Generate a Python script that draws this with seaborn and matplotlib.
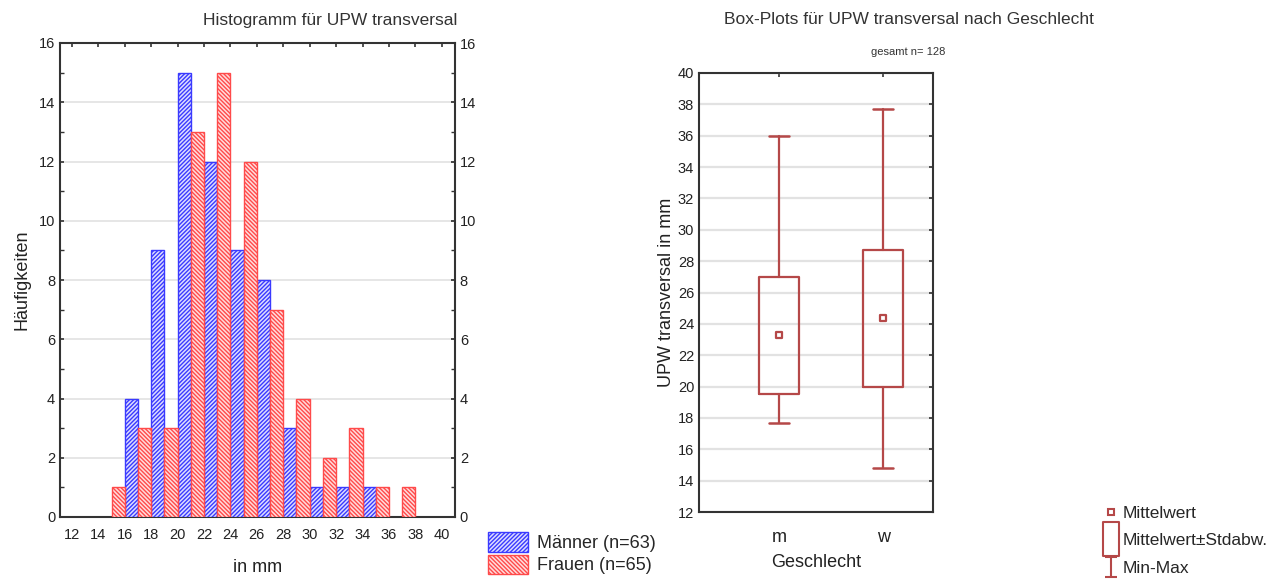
import numpy as np
import pandas as pd
import matplotlib
matplotlib.use("Agg")
import matplotlib.pyplot as plt
from matplotlib.patches import Patch
from matplotlib.lines import Line2D
from matplotlib.path import Path
import seaborn as sns

# ---------------- data ----------------
bin_centers = [15, 17, 19, 21, 23, 25, 27, 29, 31, 33, 35, 37]
maenner_counts = [0, 4, 9, 15, 12, 9, 8, 3, 1, 1, 1, 0]
frauen_counts = [1, 3, 3, 13, 15, 12, 7, 4, 2, 3, 1, 1]
groups = ["Männer (n=63)", "Frauen (n=65)"]
x_ticks = list(range(12, 41, 2))
y_ticks_hist = list(range(0, 17, 2))

box_cats = ["m", "w"]
box_mean = [23.3, 24.4]
box_sd_low = [19.5, 20.0]
box_sd_high = [27.0, 28.7]
box_min = [17.7, 14.8]
box_max = [36.0, 37.7]
y_ticks_box = list(range(12, 41, 2))

# ---------------- style ----------------
sns.set_theme(style="white")
plt.rcParams["font.family"] = ["Liberation Sans", "DejaVu Sans"]
plt.rcParams["hatch.linewidth"] = 1.0

blue_edge = "#3a3aff"
blue_face = "#dcdcff"
red_edge = "#ff4a4a"
red_face = "#ffdcdc"
box_col = "#b54848"
spine_col = "#333333"
grid_col = "#e2e2e2"
HATCH_B = "////////"
HATCH_R = "\\\\\\\\\\\\\\\\"

fig = plt.figure(figsize=(12.8, 5.84), dpi=100)

# ---------------- histogram ----------------
ax1 = fig.add_axes([60 / 1280, 1 - 517 / 584, 395 / 1280, 474 / 584])
df = pd.DataFrame({
    "center": bin_centers * 2,
    "count": maenner_counts + frauen_counts,
    "group": [groups[0]] * len(bin_centers) + [groups[1]] * len(bin_centers),
})
sns.barplot(data=df, x="center", y="count", hue="group", hue_order=groups,
            native_scale=True, width=1.0, gap=0, dodge=True, errorbar=None,
            saturation=1, palette={groups[0]: blue_face, groups[1]: red_face},
            legend=False, ax=ax1, zorder=3)

for p in ax1.patches:
    r, g, b, a = p.get_facecolor()
    if p.get_height() == 0:
        p.set_visible(False)
        continue
    if b > r:
        p.set_edgecolor(blue_edge)
        p.set_hatch(HATCH_B)
    else:
        p.set_edgecolor(red_edge)
        p.set_hatch(HATCH_R)
    p.set_linewidth(1.0)

ax1.set_xlim(11.1, 41.0)
ax1.set_ylim(0, 16)
ax1.set_xticks(x_ticks)
ax1.set_xticklabels([str(t) for t in x_ticks])
ax1.set_yticks(y_ticks_hist)
ax1.set_yticks(range(1, 16, 2), minor=True)
ax1.yaxis.grid(True, color=grid_col, linewidth=1.2, zorder=0)
ax1.set_axisbelow(True)
ax1.tick_params(axis="both", which="both", direction="in", labelsize=10.5,
                colors=spine_col, labelcolor="#222222")
ax1.tick_params(axis="both", which="major", length=3, width=1.2)
ax1.tick_params(axis="y", which="minor", length=3, width=1.0, right=True, left=True)
ax1.tick_params(axis="x", top=True)
ax1.tick_params(axis="x", which="major", pad=8)
for s in ax1.spines.values():
    s.set_color(spine_col)
    s.set_linewidth(1.5)
ax1.set_xlabel("in mm", fontsize=13, color="#222222", labelpad=12)
ax1.set_ylabel("Häufigkeiten", fontsize=13, color="#222222", labelpad=6)

ax1r = ax1.twinx()
ax1r.set_ylim(0, 16)
ax1r.set_yticks(y_ticks_hist)
ax1r.set_yticks(range(1, 16, 2), minor=True)
ax1r.tick_params(axis="y", which="both", direction="in", labelsize=10.5,
                 colors=spine_col, labelcolor="#222222", length=3)
for s in ax1r.spines.values():
    s.set_visible(False)

fig.text(330 / 1280, 1 - 20 / 584, "Histogramm für UPW transversal",
         ha="center", va="center", fontsize=12.5, color="#333333")

hist_handles = [
    Patch(facecolor=blue_face, edgecolor=blue_edge, hatch=HATCH_B, linewidth=1.0),
    Patch(facecolor=red_face, edgecolor=red_edge, hatch=HATCH_R, linewidth=1.0),
]
fig.legend(hist_handles, groups, loc="upper left",
           bbox_to_anchor=(488 / 1280, 1 - 532 / 584), frameon=False,
           fontsize=13, handlelength=2.2, handleheight=1.3, handletextpad=0.5,
           labelspacing=0.15, borderaxespad=0, borderpad=0)

# ---------------- box plot ----------------
ax2 = fig.add_axes([699 / 1280, 1 - 512 / 584, 234 / 1280, 439 / 584])
positions = list(range(len(box_cats)))
stats = []
for i, c in enumerate(box_cats):
    stats.append({"med": box_mean[i], "q1": box_sd_low[i], "q3": box_sd_high[i],
                  "whislo": box_min[i], "whishi": box_max[i], "label": c})
ax2.bxp(stats, positions=positions, widths=0.39, showfliers=False,
        boxprops=dict(color=box_col, linewidth=1.6),
        whiskerprops=dict(color=box_col, linewidth=1.6),
        capprops=dict(color=box_col, linewidth=1.8),
        medianprops=dict(visible=False), capwidths=0.2, zorder=3)
mean_df = pd.DataFrame({"pos": positions, "mean": box_mean})
sns.scatterplot(data=mean_df, x="pos", y="mean", marker="s", s=22,
                facecolor="white", edgecolor=box_col, linewidth=1.6,
                ax=ax2, zorder=4, legend=False)

ax2.set_xlim(-0.77, 1.48)
ax2.set_ylim(12, 40)
ax2.set_xticks(positions)
ax2.set_xticklabels(box_cats)
ax2.set_yticks(y_ticks_box)
ax2.yaxis.grid(True, color=grid_col, linewidth=1.6, zorder=0)
ax2.set_axisbelow(True)
ax2.tick_params(axis="both", direction="in", length=3, width=1.2,
                colors=spine_col, labelcolor="#222222")
ax2.tick_params(axis="y", labelsize=10.5, right=True)
ax2.tick_params(axis="x", labelsize=13, top=True, pad=12)
for s in ax2.spines.values():
    s.set_color(spine_col)
    s.set_linewidth(1.5)
ax2.set_xlabel("Geschlecht", fontsize=13, color="#222222", labelpad=6)
ax2.set_ylabel("UPW transversal in mm", fontsize=13, color="#222222", labelpad=2)

fig.text(909 / 1280, 1 - 20 / 584, "Box-Plots für UPW transversal nach Geschlecht",
         ha="center", va="center", fontsize=12.5, color="#333333")
fig.text(908 / 1280, 1 - 52 / 584, "gesamt n= 128",
         ha="center", va="center", fontsize=8, color="#333333")

rect_path = Path([(-0.5, -1), (0.5, -1), (0.5, 1), (-0.5, 1), (-0.5, -1)],
                 [Path.MOVETO, Path.LINETO, Path.LINETO, Path.LINETO, Path.CLOSEPOLY])
i_path = Path([(-0.6, -1), (0.6, -1), (0, -1), (0, 1), (-0.6, 1), (0.6, 1)],
              [Path.MOVETO, Path.LINETO, Path.MOVETO, Path.LINETO, Path.MOVETO, Path.LINETO])
box_handles = [
    Line2D([], [], linestyle="none", marker="s", markersize=4.5,
           markerfacecolor="white", markeredgecolor=box_col, markeredgewidth=1.5),
    Line2D([], [], linestyle="none", marker=rect_path, markersize=24,
           markerfacecolor="white", markeredgecolor=box_col, markeredgewidth=1.5),
    Line2D([], [], linestyle="none", marker=i_path, markersize=14,
           markerfacecolor="none", markeredgecolor=box_col, markeredgewidth=1.5),
]
fig.legend(box_handles, ["Mittelwert", "Mittelwert±Stdabw.", "Min-Max"],
           loc="upper left", bbox_to_anchor=(1104 / 1280, 1 - 506 / 584),
           frameon=False, fontsize=12.5, handlelength=0.8, handletextpad=0.3,
           labelspacing=0.7, borderaxespad=0, borderpad=0)

fig.savefig("out.png", dpi=100)
